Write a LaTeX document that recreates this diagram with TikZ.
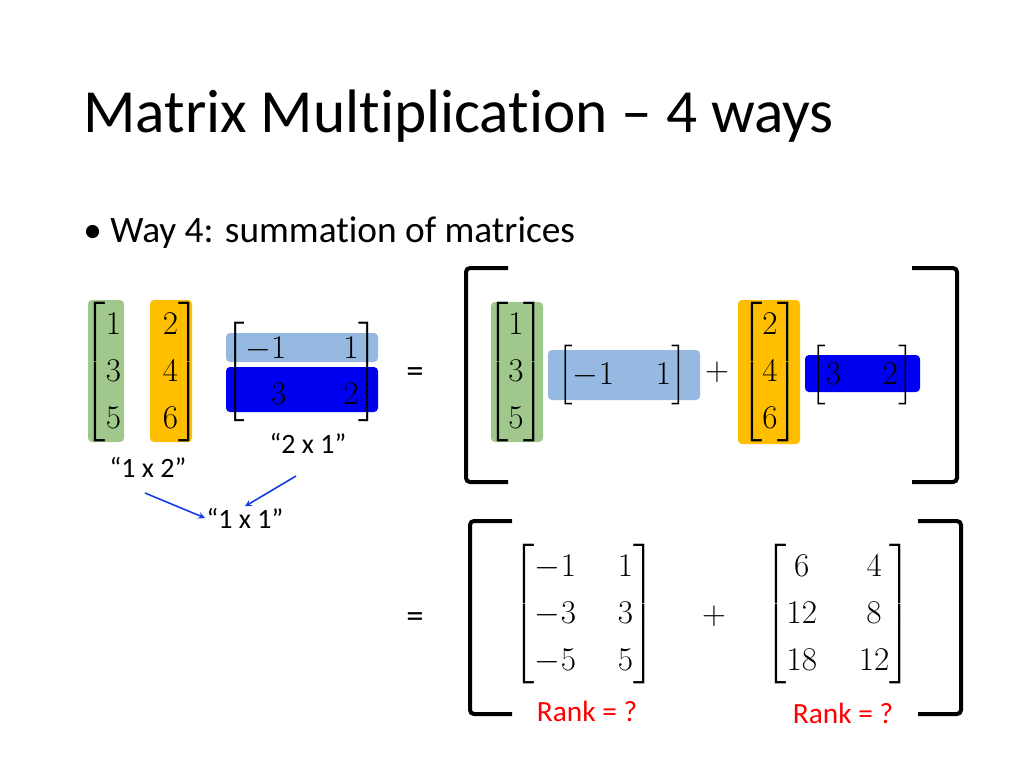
\documentclass[tikz,border=0pt]{standalone}
\usepackage{amsmath}
\usepackage{fontspec}
\setmainfont{Carlito}[Ligatures=NoCommon]
\definecolor{hgreen}{RGB}{160,200,140}
\definecolor{horange}{RGB}{255,190,0}
\definecolor{hlblue}{RGB}{150,185,225}
\definecolor{hdblue}{RGB}{0,0,240}
\definecolor{arrblue}{RGB}{20,60,230}
\renewcommand{\arraystretch}{1.0}
\tikzset{
 mat/.style={inner sep=0pt,font=\fontsize{30}{35}\selectfont},
 lbl/.style={font=\fontsize{21}{24}\selectfont,inner sep=1pt},
 big/.style={line width=3pt,rounded corners=3pt},
 hl/.style={rounded corners=3pt},
 arr/.style={-stealth,arrblue,line width=1.2pt},
 eqs/.style={font=\fontsize{26}{30}\selectfont}
}
\begin{document}
\begin{tikzpicture}[x=0.75pt,y=-0.75pt]
\useasboundingbox (0,0) rectangle (1024,768);
\node[anchor=base west,font=\fontsize{46}{50}\selectfont,inner sep=0] (title) at (83,132) {Matrix Multiplication -- 4 ways};
\node[anchor=base west,font=\fontsize{28}{32}\selectfont,inner sep=0] (bul) at (83,242) {\textbullet\ Way 4: summation of matrices};
% left matrix
\fill[hgreen,hl] (88,300) rectangle (124,442);
\fill[horange,hl] (150,300) rectangle (192,442);
\node[mat] (A) at (142,372) {$\begin{bmatrix}1&\hphantom{0}&2\\3&&4\\5&&6\end{bmatrix}$};
\fill[hlblue,hl] (226,333) rectangle (378,362);
\fill[hdblue,hl] (226,367) rectangle (378,412);
\node[mat] (B) at (302,372) {$\begin{bmatrix}-1&\hphantom{00}&1\\\hphantom{-}3&&2\end{bmatrix}$};
\node[lbl] (l21) at (308,443) {``2 x 1''};
\node[lbl] (l12) at (148,467) {``1 x 2''};
\node[lbl] (l11) at (245,518) {``1 x 1''};
\coordinate (a1s) at (145,493); \coordinate (a2s) at (296,476);
\draw[arr] (a1s) -- (l11.west);
\draw[arr] (a2s) -- (l11.north);
% first equality
\node[eqs] (eq1) at (415,375) {=};
\draw[big] (508,268) -- (466,268) -- (466,482) -- (508,482);
\draw[big] (912,268) -- (957,268) -- (957,482) -- (912,482);
\fill[hgreen,hl] (491,302) rectangle (543,442);
\node[mat] (C1) at (516,372) {$\begin{bmatrix}1\\3\\5\end{bmatrix}$};
\fill[hlblue,hl] (548,350) rectangle (700,400);
\node[mat] (R1) at (622,375) {$\begin{bmatrix}-1&\hphantom{0}&1\end{bmatrix}$};
\node[mat] (p1) at (717,372) {$+$};
\fill[horange,hl] (738,300) rectangle (800,444);
\node[mat] (C2) at (770,372) {$\begin{bmatrix}2\\4\\6\end{bmatrix}$};
\fill[hdblue,hl] (805,355) rectangle (920,392);
\node[mat] (R2) at (862,375) {$\begin{bmatrix}3&\hphantom{0}&2\end{bmatrix}$};
% second equality
\node[eqs] (eq2) at (415,620) {=};
\draw[big] (512,521) -- (470,521) -- (470,714) -- (512,714);
\draw[big] (918,521) -- (961,521) -- (961,714) -- (918,714);
\node[mat] (M1) at (584,614) {$\begin{bmatrix}-1&\hphantom{0}&1\\-3&&3\\-5&&5\end{bmatrix}$};
\node[mat] (p2) at (714,616) {$+$};
\node[mat] (M2) at (838,614) {$\begin{bmatrix}6&\hphantom{0}&4\\12&&8\\18&&12\end{bmatrix}$};
\node[lbl,red,font=\fontsize{22}{26}\selectfont] (rk1) at (587,711) {Rank = ?};
\node[lbl,red,font=\fontsize{22}{26}\selectfont] (rk2) at (843,713) {Rank = ?};
\end{tikzpicture}
\end{document}
